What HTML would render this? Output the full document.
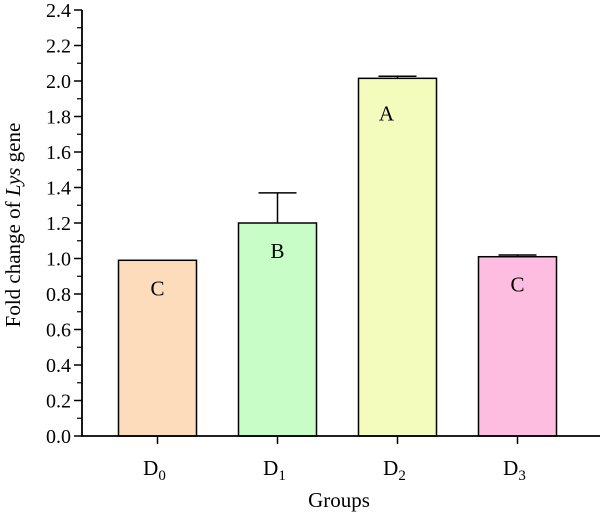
<!DOCTYPE html>
<html><head><meta charset="utf-8"><style>
body{margin:0;background:#fff}
svg{display:block;font-family:"Liberation Serif",serif}
</style></head><body>
<svg id="chart" width="600" height="515">
<g id="g"></g>
</svg>
<script>
const categories=["0","1","2","3"];
const values=[0.99,1.20,2.015,1.01];
const errors=[0,0.17,0.012,0.01];
const letters=["C","B","A","C"];
const colors=["#fddcbc","#c8fdc8","#f3fcbd","#fdbde0"];
const yTicks=[0,0.2,0.4,0.6,0.8,1.0,1.2,1.4,1.6,1.8,2.0,2.2,2.4];
const NS="http://www.w3.org/2000/svg";
const g=document.getElementById('g');
const x0=82,y0=436,yTop=10,yMax=2.4;
const y=v=>y0-(v/yMax)*(y0-yTop);
const cx=i=>157.5+i*120;
const bw=78;
function mk(t,a,p){const e=document.createElementNS(NS,t);for(const k in a)e.setAttribute(k,a[k]);(p||g).appendChild(e);return e;}
categories.forEach((c,i)=>{
 const r=mk('rect',{x:cx(i)-bw/2,y:y(values[i]),width:bw,height:y0-y(values[i]),fill:colors[i],stroke:'#000','stroke-width':1.5});
 
 
 if(errors[i]>0){
  const e=mk('path',{d:`M${cx(i)} ${y(values[i])}V${y(values[i]+errors[i])}M${cx(i)-19} ${y(values[i]+errors[i])}H${cx(i)+19}`,stroke:'#000','stroke-width':1.5,fill:'none'});
  
  
 }
 const ly=i==2?y(values[i])+42:y(values[i])+35;
 const lx=i==2?cx(i)-11:cx(i);
 const t=mk('text',{x:lx,y:ly,'font-size':21,'text-anchor':'middle'});t.textContent=letters[i];
 
 
 mk('line',{x1:cx(i),x2:cx(i),y1:y0,y2:y0+8,stroke:'#000','stroke-width':1.5});
 const xl=mk('text',{x:cx(i)-3,y:475,'font-size':21,'text-anchor':'middle'});
 xl.innerHTML='D<tspan font-size="15" dy="5">'+c+'</tspan>';
 
 
});
yTicks.forEach((v,i)=>{
 mk('line',{x1:x0-8,x2:x0,y1:y(v),y2:y(v),stroke:'#000','stroke-width':1.5});
 if(i<yTicks.length-1)mk('line',{x1:x0-5,x2:x0,y1:y(v+0.1),y2:y(v+0.1),stroke:'#000','stroke-width':1.2});
 const t=mk('text',{x:x0-11,y:y(v)+7,'font-size':20,'text-anchor':'end'});t.textContent=v.toFixed(1);
 
 
});
const ax=mk('path',{d:`M${x0} ${yTop}V${y0}H600`,stroke:'#000','stroke-width':1.8,fill:'none'});


const xt=mk('text',{x:339,y:507,'font-size':21,'text-anchor':'middle'});xt.textContent='Groups';


const yt=mk('text',{x:0,y:0,'font-size':21,'text-anchor':'middle',transform:'translate(20 225) rotate(-90)'});
yt.innerHTML='Fold change of <tspan font-style="italic">Lys</tspan> gene';


</script>
</body></html>
